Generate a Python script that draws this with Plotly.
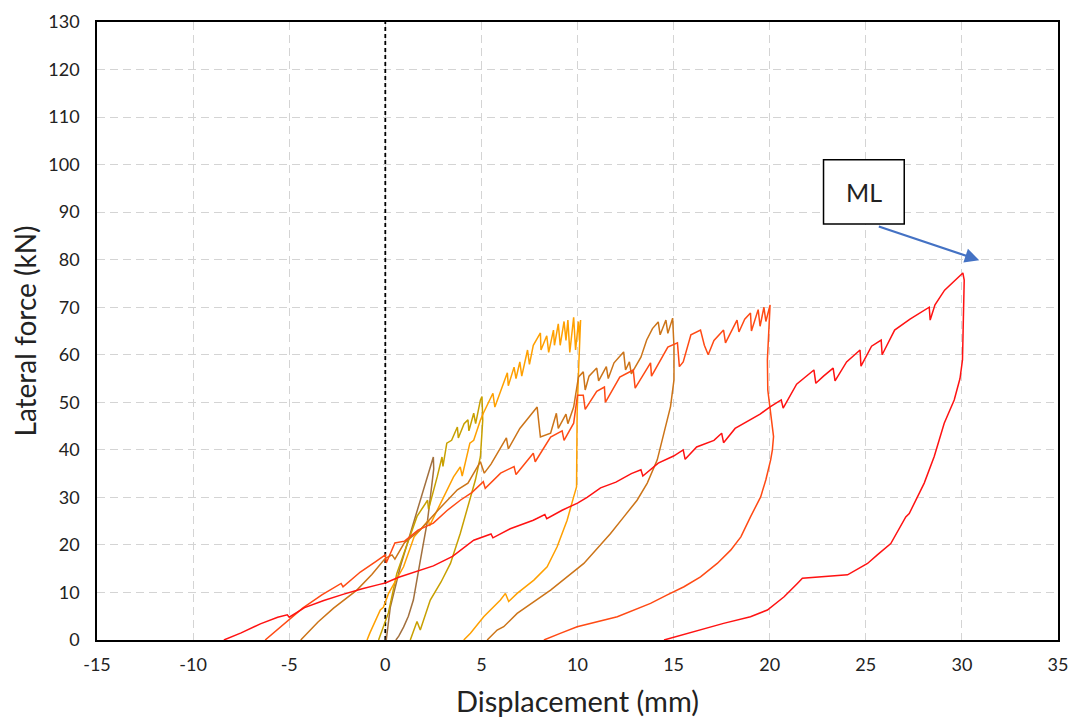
import plotly.graph_objects as go

# ---------------- data ----------------
# cycle to 2.5 mm (brown)
c1_x = [0.05, 0.26, 0.78, 1.3, 1.8, 2.25, 2.5, 2.52, 2.35, 2.2, 1.8, 1.46, 1.2, 0.95, 0.7, 0.55]
c1_y = [0.0, 6.9, 15.4, 22.5, 29.4, 35.1, 38.5, 36.0, 30.5, 25.2, 16.2, 8.4, 5.0, 2.7, 0.8, 0.0]

# cycle to 5 mm (gold)
c2_x = [-0.35, 0.16, 0.6, 1.15, 1.65, 2.2, 2.25, 2.7, 2.95, 3.0, 3.2, 3.45, 3.75, 3.8, 4.1, 4.3,
        4.35, 4.6, 4.7, 4.95, 5.03, 5.07, 5.03, 4.95, 4.69, 4.43, 3.9, 3.39, 2.9, 2.34, 1.82,
        1.65, 1.48, 1.3]
c2_y = [0.0, 5.7, 14.0, 20.4, 26.0, 29.4, 27.5, 34.3, 38.5, 36.5, 41.4, 42.0, 44.8, 42.5, 45.5, 46.3,
        44.0, 47.7, 45.5, 50.5, 51.2, 46.3, 42.8, 38.6, 33.7, 30.1, 22.4, 16.1, 12.2, 8.4, 2.1,
        3.9, 2.1, 0.0]

# cycle to 10 mm (orange)
c3_x = [-0.95, -0.8, -0.26, -0.1, 0.17, 0.95, 1.5, 2.25, 2.3, 2.7, 3.4, 3.55, 3.9, 4.0, 4.4, 4.6,
        4.95, 5.1, 5.6, 5.7, 6.35, 6.4, 6.7, 6.8, 7.0, 7.1, 7.4, 7.5, 7.7, 8.07, 8.1, 8.4, 8.5,
        8.75, 8.8, 9.0, 9.1, 9.3, 9.4, 9.5, 9.6, 9.8, 9.9, 10.05, 10.1, 10.16,
        10.07, 9.98, 9.95, 9.95, 9.8, 9.46, 8.94, 8.42, 7.73, 6.86, 6.42, 6.25, 5.99, 5.12, 4.43, 4.08]
c3_y = [0.0, 1.5, 6.3, 6.9, 9.8, 15.4, 21.7, 25.2, 24.0, 27.3, 33.0, 34.3, 36.4, 34.5, 41.4, 42.0,
        46.3, 47.7, 51.9, 49.0, 56.2, 53.5, 57.4, 55.0, 58.5, 55.5, 61.0, 58.0, 62.0, 64.6, 61.0, 64.0, 60.5,
        65.2, 62.0, 66.5, 62.0, 67.0, 63.0, 67.3, 60.5, 67.9, 61.0, 67.0, 63.0, 67.3,
        58.2, 47.7, 37.2, 32.2, 30.1, 25.2, 19.6, 15.4, 12.6, 9.8, 8.1, 9.8, 8.4, 4.9, 1.4, 0.0]

# cycle to 15 mm (dark orange)
c4_x = [-4.4, -3.5, -2.69, -1.48, -0.7, 0.0, 0.35, 0.5, 1.0, 1.8, 2.9, 3.75, 4.3, 4.95, 5.15, 5.5,
        6.3, 6.4, 7.0, 7.9, 8.07, 8.6, 8.9, 9.0, 9.4, 9.5, 9.8, 10.05, 10.3, 10.4, 10.6, 11.0,
        11.1, 11.5, 11.6, 11.9, 12.4, 12.5, 12.7, 12.8, 13.3, 13.6, 13.9, 14.2, 14.3, 14.6, 14.7, 14.95,
        15.02, 15.02, 14.84, 14.5, 14.15, 13.63, 13.1, 12.41, 11.72, 10.33, 8.6, 6.86, 6.16, 5.82, 5.3]
c4_y = [0.0, 3.8, 6.7, 10.5, 13.8, 17.2, 17.9, 17.0, 20.5, 23.1, 28.0, 31.6, 33.0, 37.5, 35.1, 37.0,
        42.5, 40.2, 44.5, 49.0, 42.7, 43.5, 47.7, 44.5, 47.5, 45.5, 49.0, 55.3, 56.4, 52.6, 55.5, 57.2,
        54.5, 57.5, 55.0, 58.3, 60.6, 56.8, 58.5, 56.0, 59.5, 63.1, 65.5, 66.9, 64.2, 67.3, 64.5, 67.7,
        61.7, 54.7, 49.1, 43.5, 37.9, 33.0, 29.4, 25.9, 22.4, 16.1, 10.5, 5.6, 2.8, 2.1, 0.0]

# cycle to 20 mm (orange-red)
c5_x = [-6.25, -5.3, -4.3, -3.3, -2.3, -2.2, -1.3, -0.5, 0.0, 0.05, 0.5, 1.0, 1.7, 2.5, 3.2, 3.9,
        4.5, 5.1, 5.2, 6.0, 6.7, 6.8, 7.7, 7.8, 8.6, 9.2, 9.3, 9.8, 10.0, 10.3, 10.4, 11.0, 11.4,
        11.45, 12.2, 12.9, 13.0, 13.8, 13.85, 14.7, 15.2, 15.3, 15.5, 15.9, 16.4, 16.6, 16.8, 17.1,
        17.6, 17.7, 18.3, 18.4, 18.7, 19.0, 19.05, 19.4, 19.5, 19.7, 19.8, 20.02,
        19.97, 19.88, 19.9, 20.05, 20.2, 20.14, 20.05, 19.8, 19.53, 19.0, 18.5, 17.97, 17.27, 16.4,
        15.54, 14.67, 13.8, 12.07, 9.98, 9.1, 8.25]
c5_y = [0.0, 3.3, 6.7, 9.5, 11.9, 11.2, 14.3, 16.5, 17.9, 16.2, 20.4, 20.8, 23.1, 24.6, 27.2, 29.4,
        31.0, 33.3, 31.9, 35.1, 36.5, 34.8, 39.3, 37.5, 42.7, 44.0, 42.0, 45.6, 51.5, 51.5, 48.5, 52.3, 53.2,
        50.0, 55.3, 56.8, 53.0, 58.3, 55.5, 61.6, 62.5, 57.5, 58.5, 64.2, 65.2, 62.0, 60.0, 63.0,
        65.2, 62.5, 67.3, 64.8, 67.5, 68.8, 65.0, 69.5, 66.0, 70.0, 67.0, 70.5,
        65.2, 58.9, 52.6, 47.7, 42.8, 40.0, 37.9, 33.7, 30.1, 25.9, 21.7, 18.9, 16.1, 13.3,
        11.2, 9.5, 7.7, 4.9, 2.8, 1.4, 0.0]

# cycle to 30 mm (red)
c6_x = [-8.4, -7.5, -6.5, -5.6, -5.1, -5.0, -4.2, -3.2, -2.2, -1.2, -0.3, 0.0, 0.7, 1.5, 2.5, 3.5,
        4.6, 5.5, 5.6, 6.5, 7.7, 8.3, 8.4, 9.2, 10.0, 10.5, 11.2, 12.0, 12.8, 13.3, 13.4, 14.2, 15.0,
        15.5, 15.6, 16.2, 17.1, 17.5, 17.6, 18.2, 19.0, 19.5, 20.0, 20.6, 20.7, 21.4, 22.3, 22.4, 22.8,
        23.3, 23.4, 24.0, 24.7, 24.75, 25.3, 25.8, 25.85, 26.5, 27.3, 28.3, 28.35, 28.6, 29.1, 29.6, 30.05,
        30.12, 30.09, 30.03, 29.9, 29.6, 29.08, 28.56, 28.04, 27.7, 27.26, 27.08, 26.3, 25.6, 25.09,
        24.05, 21.7, 21.44, 20.75, 19.88, 19.0, 17.6, 15.7, 14.5]
c6_y = [0.0, 1.5, 3.4, 4.8, 5.3, 4.8, 6.8, 8.3, 9.6, 10.8, 11.7, 12.0, 13.2, 14.3, 15.6, 17.6,
        21.0, 22.3, 21.5, 23.4, 25.2, 26.4, 25.5, 27.3, 28.8, 30.0, 32.0, 33.2, 35.0, 35.8, 34.5, 37.2, 38.7,
        40.0, 38.0, 40.6, 42.0, 43.5, 41.5, 44.5, 46.3, 47.5, 49.0, 50.5, 48.8, 53.8, 56.8, 54.0, 55.5,
        57.2, 54.5, 58.5, 61.0, 57.6, 61.8, 63.1, 60.0, 65.2, 67.5, 70.0, 67.3, 70.5, 73.6, 75.5, 77.2,
        75.7, 67.3, 58.9, 55.0, 50.5, 45.6, 38.6, 33.0, 30.1, 26.6, 25.9, 20.3, 17.9, 16.1,
        13.7, 13.0, 11.9, 9.1, 6.3, 4.9, 3.5, 1.4, 0.0]

curves = [
    (c1_x, c1_y, "#A2703E"),
    (c2_x, c2_y, "#C8A000"),
    (c3_x, c3_y, "#FFA000"),
    (c4_x, c4_y, "#CC7418"),
    (c5_x, c5_y, "#FF4A14"),
    (c6_x, c6_y, "#FF1212"),
]

x_ticks = [-15, -10, -5, 0, 5, 10, 15, 20, 25, 30, 35]
y_ticks = [0, 10, 20, 30, 40, 50, 60, 70, 80, 90, 100, 110, 120, 130]

# annotation
ml_label = "ML"
ml_box_x = [22.8, 27.0]
ml_box_y = [87.5, 101.0]
ml_arrow_from = (25.6, 87.1)
ml_arrow_to = (30.9, 79.9)

FONT = "Lato"

fig = go.Figure()

# zero line
fig.add_trace(go.Scatter(x=[0, 0], y=[0, 130], mode="lines",
                         line=dict(color="black", width=1.8, dash="4px,3px"),
                         showlegend=False, hoverinfo="skip"))

for cx, cy, col in curves:
    fig.add_trace(go.Scatter(x=cx, y=cy, mode="lines",
                             line=dict(color=col, width=1.5),
                             showlegend=False))

fig.add_shape(type="rect", xref="x", yref="y",
              x0=ml_box_x[0], x1=ml_box_x[1], y0=ml_box_y[0], y1=ml_box_y[1],
              line=dict(color="black", width=1.5), fillcolor="white", layer="above")
fig.add_annotation(x=(ml_box_x[0] + ml_box_x[1]) / 2, y=(ml_box_y[0] + ml_box_y[1]) / 2,
                   text=ml_label, showarrow=False,
                   font=dict(family=FONT, size=25, color="#222222"))
fig.add_annotation(x=ml_arrow_to[0], y=ml_arrow_to[1],
                   ax=ml_arrow_from[0], ay=ml_arrow_from[1],
                   axref="x", ayref="y", xref="x", yref="y",
                   text="", showarrow=True, arrowhead=2, arrowsize=1.3,
                   arrowwidth=2.2, arrowcolor="#4472C4")

grid = dict(showgrid=True, gridcolor="#D4D4D4", gridwidth=1, griddash="8px,5px")

# page body has an 8px margin, so the figure is shifted by 8px
fig.update_layout(
    width=1068, height=710,
    margin=dict(l=89, r=18, t=14, b=78),
    paper_bgcolor="white", plot_bgcolor="white",
    font=dict(family=FONT, color="#222222"),
    showlegend=False,
    xaxis=dict(range=[-15, 35], tickvals=x_ticks, ticktext=[str(v) for v in x_ticks],
               showline=True, linecolor="black", linewidth=1.5, mirror=True,
               zeroline=False, ticks="", tickfont=dict(size=18), ticklabelstandoff=8,
               automargin=False,
               title=dict(text="Displacement (mm)", font=dict(size=29), standoff=18),
               **grid),
    yaxis=dict(range=[0, 130], tickvals=y_ticks, ticktext=[str(v) for v in y_ticks],
               showline=True, linecolor="black", linewidth=1.5, mirror=True,
               zeroline=False, ticks="", tickfont=dict(size=18), ticklabelstandoff=12,
               automargin=False,
               title=dict(text="Lateral force (kN)", font=dict(size=28), standoff=12),
               **grid),
)

fig.write_html("out.html")
